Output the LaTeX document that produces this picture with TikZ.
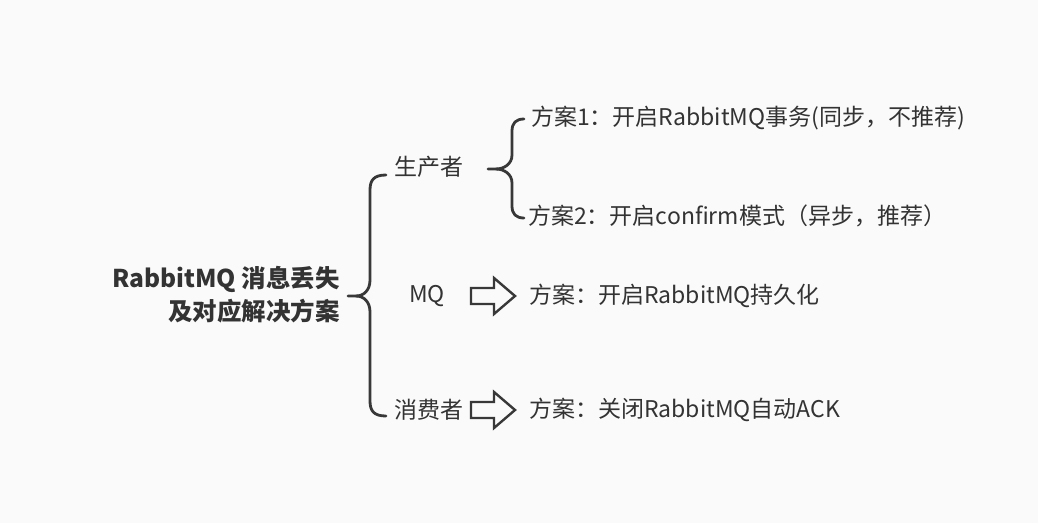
\documentclass[tikz,border=0pt]{standalone}
\usepackage{fontspec}
\setmainfont{Noto Sans CJK SC}
\definecolor{txt}{HTML}{333333}
\definecolor{ln}{HTML}{383838}
\definecolor{bg}{HTML}{FAFAFA}
\begin{document}
\begin{tikzpicture}[x=1pt,y=-1pt,
  lbl/.style={inner sep=0pt,text=txt,font=\fontsize{23}{27}\selectfont,anchor=west},
  title/.style={inner sep=0pt,text=txt,font=\fontsize{24.5}{33}\selectfont\bfseries,align=right,anchor=east},
  brace/.style={draw=ln,line width=2.8pt,line cap=round,line join=round},
  fatarrow/.style={draw=ln,line width=2.4pt,fill=bg,line join=miter}]
\fill[bg] (0,0) rectangle (1038,523);
\useasboundingbox (0,0) rectangle (1038,523);
% title
\node[title] (root) at (340,295) {RabbitMQ 消息丢失\\及对应解决方案};
% level 1
\node[lbl] (prod) at (394,167) {生产者};
\node[lbl] (mq) at (409,296) {MQ};
\node[lbl] (cons) at (394,410) {消费者};
% level 2
\node[lbl] (p1) at (531,118) {方案1：开启RabbitMQ事务(同步，不推荐)};
\node[lbl] (p2) at (528,216) {方案2：开启confirm模式（异步，推荐）};
\node[lbl] (mqs) at (529,296) {方案：开启RabbitMQ持久化};
\node[lbl] (cs) at (529,410) {方案：关闭RabbitMQ自动ACK};
% big brace
\coordinate (bt) at (348,296);
\coordinate (b1) at (386,175);
\coordinate (b2) at (386,416);
\draw[brace] (bt) -- (356,296) .. controls (364,296) and (370,290) .. (370,280)
  -- (370,190) .. controls (370,180) and (374,175) .. (b1);
\draw[brace] (356,296) .. controls (364,296) and (370,302) .. (370,312)
  -- (370,401) .. controls (370,411) and (374,416) .. (b2);
% small brace
\coordinate (st) at (488,169);
\coordinate (s1) at (524,119);
\coordinate (s2) at (524,218);
\draw[brace] (st) -- (496,169) .. controls (504,169) and (512,164) .. (512,155)
  -- (512,131) .. controls (512,123) and (516,119) .. (s1);
\draw[brace] (496,169) .. controls (504,169) and (512,174) .. (512,183)
  -- (512,206) .. controls (512,214) and (516,218) .. (s2);
% arrows
\draw[fatarrow] (471,288) -- (494,288) -- (494,278) -- (515,296) -- (494,314) -- (494,304) -- (471,304) -- cycle;
\draw[fatarrow] (471,402) -- (494,402) -- (494,392) -- (515,410) -- (494,428) -- (494,418) -- (471,418) -- cycle;
\end{tikzpicture}
\end{document}
